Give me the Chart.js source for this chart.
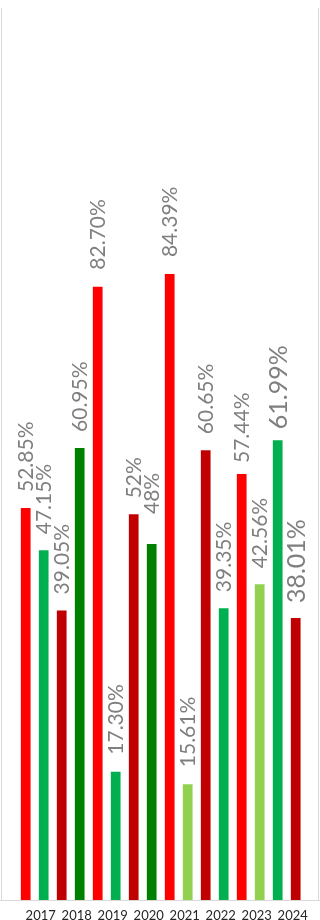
<!DOCTYPE html>
<html>
<head>
<meta charset="utf-8">
<script src="https://cdn.jsdelivr.net/npm/chart.js@4.4.1/dist/chart.umd.min.js"></script>
<style>
  html, body { margin: 0; padding: 0; background: #fff; }
  canvas { display: block; }
</style>
</head>
<body>
<canvas id="chart" width="320" height="920"></canvas>
<script>
// Yearly split between the two shares (each pair adds up to 100%)
const years = ['2017', '2018', '2019', '2020', '2021', '2022', '2023', '2024'];
const firstShare  = [52.85, 39.05, 82.70, 52, 84.39, 60.65, 57.44, 61.99];
const secondShare = [47.15, 60.95, 17.30, 48, 15.61, 39.35, 42.56, 38.01];

const RED = '#FF0000', DARK_RED = '#C00000';
const GREEN = '#00B050', DARK_GREEN = '#008000', LIGHT_GREEN = '#92D050';
const firstColors  = [RED, DARK_RED, RED, DARK_RED, RED, DARK_RED, RED, GREEN];
const secondColors = [GREEN, DARK_GREEN, GREEN, DARK_GREEN, LIGHT_GREEN, GREEN, LIGHT_GREEN, DARK_RED];

// Per-label tweaks: gap above the bar and font size
const labelStyle = {
  0: { gap: [16, 16, 17, 16, 17, 16, 11, 11], size: [21, 21, 21, 21, 21, 21, 21, 25] },
  1: { gap: [16, 16, 17, 30, 17, 16, 16, 15], size: [21, 21, 21, 21, 21, 21, 21, 25] }
};

function pct(v) {
  return (Number.isInteger(v) ? String(v) : v.toFixed(2)) + '%';
}

const valueLabels = {
  id: 'valueLabels',
  afterDatasetsDraw(chart) {
    const ctx = chart.ctx;
    chart.data.datasets.forEach((ds, di) => {
      const meta = chart.getDatasetMeta(di);
      meta.data.forEach((bar, i) => {
        const st = labelStyle[di];
        ctx.save();
        ctx.translate(bar.x + 1, bar.y - st.gap[i]);
        ctx.rotate(-Math.PI / 2);
        ctx.font = st.size[i] + 'px Lato';
        ctx.fillStyle = '#7F7F7F';
        ctx.textAlign = 'left';
        ctx.textBaseline = 'middle';
        ctx.fillText(pct(ds.data[i]), 0, 0);
        ctx.restore();
      });
    });
  }
};

const frame = {
  id: 'frame',
  beforeDatasetsDraw(chart) {
    const ctx = chart.ctx;
    const b = chart.chartArea.bottom;
    ctx.save();
    ctx.strokeStyle = '#D9D9D9';
    ctx.lineWidth = 1;
    ctx.beginPath();
    ctx.moveTo(1.5, 8);
    ctx.lineTo(1.5, b + 0.5);
    ctx.lineTo(chart.width - 1.5, b + 0.5);
    ctx.lineTo(chart.width - 1.5, 8);
    ctx.moveTo(0, b + 0.5);
    ctx.lineTo(chart.width, b + 0.5);
    ctx.stroke();
    ctx.restore();
  }
};

new Chart(document.getElementById('chart'), {
  type: 'bar',
  data: {
    labels: years,
    datasets: [
      { data: firstShare, backgroundColor: firstColors, borderWidth: 0 },
      { data: secondShare, backgroundColor: secondColors, borderWidth: 0 }
    ]
  },
  options: {
    responsive: false,
    animation: false,
    events: [],
    datasets: { bar: { categoryPercentage: 1, barPercentage: 0.54 } },
    layout: { padding: { top: 10, left: 16.7, right: 15.3, bottom: 0 } },
    plugins: { legend: { display: false }, tooltip: { enabled: false } },
    scales: {
      x: {
        grid: { display: false, drawTicks: false },
        border: { display: false },
        ticks: {
          color: '#262626',
          font: { family: 'Lato', size: 13 },
          padding: 8,
          labelOffset: 6,
          maxRotation: 0,
          autoSkip: false
        },
        afterFit(scale) { scale.height = 20; }
      },
      y: {
        display: false,
        min: 0,
        max: 120
      }
    }
  },
  plugins: [frame, valueLabels]
});
</script>
</body>
</html>
